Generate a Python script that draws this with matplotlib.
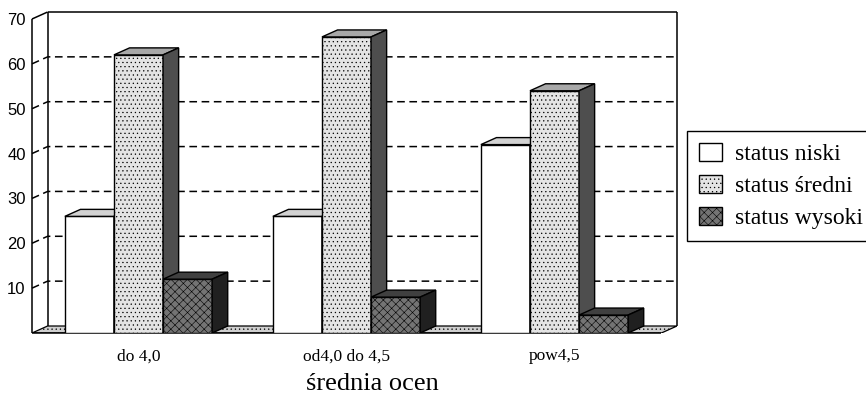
import numpy as np
import matplotlib
matplotlib.use('Agg')
import matplotlib.pyplot as plt
from matplotlib.patches import Polygon, Patch

### dane z wykresu
categories=['do 4,0','od4,0 do 4,5','pow4,5']
series_names=['status niski','status średni','status wysoki']
niski=[26,26,42]
sredni=[62,66,54]
wysoki=[12,8,4]
yticks=[10,20,30,40,50,60,70]
xlabel='średnia ocen'

values=[niski,sredni,wysoki]
front_col=['white','#e4e4e4','#747474']
top_col=['#d2d2d2','#a8a8a8','#404040']
side_col=['#9a9a9a','#4e4e4e','#202020']
hatches=['','....','xxxx']
floor_col='#cfcfcf'

plt.rcParams['hatch.linewidth']=0.4

fig=plt.figure(figsize=(8.66,3.96),dpi=100)
ax=fig.add_axes([32/866,63/396,645/866,321/396])

bw=0.236      # szerokosc slupka
dx=0.075      # glebokosc 3D w x
dy=1.56       # glebokosc 3D w y
xl=-0.512     # lewa krawedz przodu
xr=2.514      # prawa krawedz przodu
ymax=70
ax.set_xlim(xl,xr+dx)
ax.set_ylim(0,ymax+dy)
xs=np.arange(len(categories))

### podloga
ax.add_patch(Polygon([(xl,0),(xr,0),(xr+dx,dy),(xl+dx,dy)],closed=True,
                     facecolor=floor_col,edgecolor='black',lw=0.9,hatch='....',zorder=1))

### linie siatki (przerywane) na tylnej scianie
for v in yticks[:-1]:
    ax.plot([xl,xl+dx,xr+dx],[v,v+dy,v+dy],color='black',lw=1.1,
            linestyle=(0,(5,3)),zorder=1.5,clip_on=False)

### ramka
kw=dict(color='black',lw=1.1,zorder=1.6,clip_on=False,solid_capstyle='butt')
ax.plot([xl,xl],[0,ymax],**kw)
ax.plot([xl,xl+dx],[ymax,ymax+dy],**kw)
ax.plot([xl+dx,xl+dx],[dy,ymax+dy],**kw)
ax.plot([xl+dx,xr+dx],[ymax+dy,ymax+dy],**kw)
ax.plot([xr+dx,xr+dx],[dy,ymax+dy],**kw)
ax.plot([xl,xr],[0,0],**kw)

### slupki 3D
for i,vals in enumerate(values):
    pos=xs+(i-1)*bw
    z=3+i
    ax.bar(pos,vals,width=bw,color=front_col[i],edgecolor='black',lw=1,
           hatch=hatches[i],zorder=z)
    for p,v in zip(pos,vals):
        a=p-bw/2; b=p+bw/2
        ax.add_patch(Polygon([(a,v),(b,v),(b+dx,v+dy),(a+dx,v+dy)],closed=True,
                             facecolor=top_col[i],edgecolor='black',lw=1,zorder=z))
        ax.add_patch(Polygon([(b,0),(b,v),(b+dx,v+dy),(b+dx,dy)],closed=True,
                             facecolor=side_col[i],edgecolor='black',lw=1,zorder=z))

### osie
for s in ax.spines.values():
    s.set_visible(False)
ax.patch.set_visible(False)
ax.set_yticks(yticks)
ax.set_yticklabels([str(t) for t in yticks],fontfamily='Liberation Sans',fontsize=12)
ax.tick_params(axis='y',length=0,pad=4.5)
ax.set_xticks(xs)
ax.set_xticklabels(categories,fontfamily='Liberation Serif',fontsize=12.5)
ax.tick_params(axis='x',length=0,pad=11)
ax.set_xlabel(xlabel,fontfamily='Liberation Serif',fontsize=19,va='center')
ax.xaxis.set_label_coords((372-32)/645,-(384-333)/321)

### legenda
handles=[Patch(facecolor=front_col[i],edgecolor='black',hatch=hatches[i]) for i in range(3)]
leg=fig.legend(handles,series_names,loc='upper left',bbox_to_anchor=(687/866,(396-131)/396),
               prop={'family':'Liberation Serif','size':17},frameon=True,fancybox=False,
               edgecolor='black',framealpha=1,borderpad=0.5,handlelength=1.0,handleheight=0.78,
               handletextpad=0.55,labelspacing=0.43,borderaxespad=0)
leg.get_frame().set_linewidth(1)

fig.savefig('out.png',dpi=100)
